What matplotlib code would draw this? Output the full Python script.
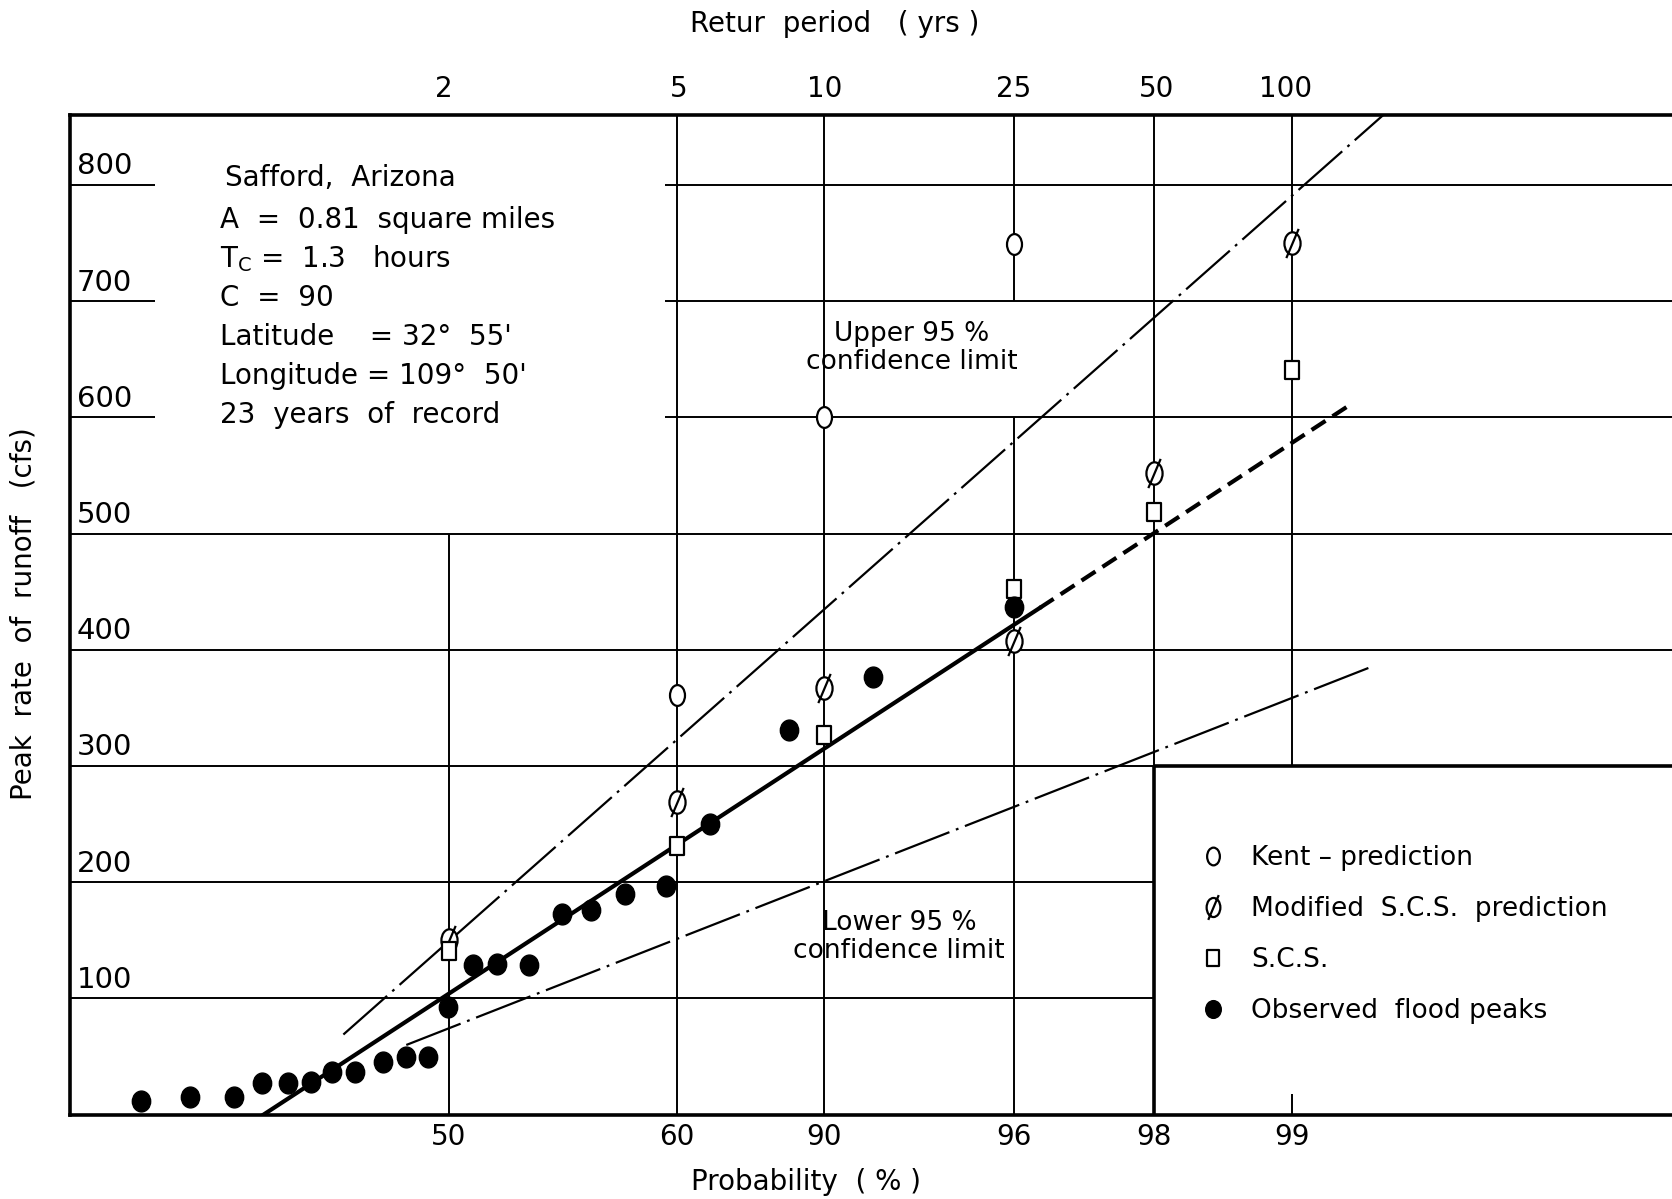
import matplotlib.pyplot as plt
import numpy as np
from matplotlib.path import Path

plt.rcParams['font.family'] = 'DejaVu Sans'
plt.rcParams['lines.scale_dashes'] = False

# x is the distance along the hand drawn probability paper
prob_pos = [3.55, 5.69, 7.07, 8.85, 10.16, 11.46]
prob_labels = ['50', '60', '90', '96', '98', '99']
period_pos = [3.50, 5.70, 7.07, 8.85, 10.19, 11.40]
period_labels = ['2', '5', '10', '25', '50', '100']
y_ticks = [100, 200, 300, 400, 500, 600, 700, 800]

kent_x = [5.69, 7.07, 8.85]
kent_y = [361, 600, 749]
mod_scs_x = [3.55, 5.69, 7.07, 8.85, 10.16, 11.46]
mod_scs_y = [150, 269, 367, 408, 552, 750]
scs_x = [3.55, 5.69, 7.07, 8.85, 10.16, 11.46]
scs_y = [141, 231, 327, 452, 519, 641]
obs_x = [0.66, 1.12, 1.53, 1.80, 2.04, 2.26, 2.45, 2.67, 2.93, 3.15, 3.35, 3.54,
         3.78, 4.00, 4.30, 4.61, 4.88, 5.20, 5.59, 6.00, 6.74, 7.53, 8.85]
obs_y = [12, 15, 15, 27, 27, 28, 37, 37, 45, 50, 50, 93,
         129, 130, 129, 173, 176, 190, 197, 250, 331, 377, 437]

fit_x = [1.81, 9.09, 12.02]
fit_y = [0, 436, 612]
upper_x = [2.56, 12.31]
upper_y = [69, 860]
lower_x = [3.15, 12.19]
lower_y = [60, 385]

# marker shapes: tall ellipse, slashed ellipse, tall box
circ = Path.unit_circle()
ellipse = Path(circ.vertices * [0.72, 1.0], circ.codes)
dot = Path(circ.vertices * [0.88, 1.0], circ.codes)
slash = Path([(-0.55, -1.3), (0.55, 1.3)], [Path.MOVETO, Path.LINETO])
phi = Path.make_compound_path(ellipse, slash)
box = Path([(-0.8, -1), (0.8, -1), (0.8, 1), (-0.8, 1), (-0.8, -1)],
           [Path.MOVETO, Path.LINETO, Path.LINETO, Path.LINETO, Path.CLOSEPOLY])

fig = plt.figure(figsize=(16.72, 11.99), dpi=100)
ax = fig.add_axes([0.0421, 0.0703, 0.9579, 0.8336])
ax.set_xlim(0, 15.02)
ax.set_ylim(0, 860)

for s in ['left', 'bottom', 'top']:
    ax.spines[s].set_linewidth(2.6)
ax.spines['right'].set_visible(False)

# grid, drawn the way the paper has it
gw = 1.4
ax.hlines([800, 700, 600], 5.58, 15.02, color='black', lw=gw)
ax.hlines([800, 700, 600], 0, 0.79, color='black', lw=gw)
ax.hlines([500, 400], 0, 15.02, color='black', lw=gw)
ax.hlines([300, 200, 100], 0, 10.16, color='black', lw=gw)
ax.vlines(prob_pos[0], 0, 500, color='black', lw=gw)
ax.vlines(prob_pos[1:3], 0, 860, color='black', lw=gw)
ax.vlines(prob_pos[3], 0, 600, color='black', lw=gw)
ax.vlines(prob_pos[3], 700, 860, color='black', lw=gw)
ax.vlines(prob_pos[4:], 300, 860, color='black', lw=gw)
ax.vlines(prob_pos[5], 0, 18, color='black', lw=gw)
# legend box
ax.hlines(300, 10.16, 15.02, color='black', lw=2.6)
ax.vlines(prob_pos[4], 0, 300, color='black', lw=2.6)

for v in y_ticks:
    ax.text(0.06, v + 4, str(v), fontsize=21, ha='left', va='bottom')

ax.set_xticks(prob_pos, prob_labels, fontsize=20)
ax.tick_params(axis='x', length=0, pad=6)
ax.set_yticks([])
top = ax.secondary_xaxis('top')
top.set_xticks(period_pos, period_labels, fontsize=20)
top.tick_params(axis='x', length=0, pad=9)
top.spines['top'].set_visible(False)

# fitted line and confidence limits
ax.plot(fit_x[:2], fit_y[:2], color='black', lw=3.0, zorder=3)
ax.plot(fit_x[1:], fit_y[1:], color='black', lw=3.0, ls=(0, (12, 6)), zorder=3)
ax.plot(upper_x, upper_y, color='black', lw=1.6, ls=(0, (42, 5, 2, 5)), zorder=3)
ax.plot(lower_x, lower_y, color='black', lw=1.6, ls=(0, (42, 5, 2, 5)), zorder=3)

kent, = ax.plot(kent_x, kent_y, ls='none', marker=ellipse, ms=15, mfc='white',
                mec='black', mew=1.6, zorder=5, label='Kent \u2013 prediction')
mod, = ax.plot(mod_scs_x, mod_scs_y, ls='none', marker=phi, ms=21, mfc='white',
               mec='black', mew=1.6, zorder=5, label='Modified  S.C.S.  prediction')
scs, = ax.plot(scs_x, scs_y, ls='none', marker=box, ms=13, mfc='white',
               mec='black', mew=1.6, zorder=5, label='S.C.S.')
obs, = ax.plot(obs_x, obs_y, ls='none', marker=dot, ms=15, mfc='black',
               mec='black', zorder=6, label='Observed  flood peaks')

ax.text(1.45, 806, 'Safford,  Arizona', fontsize=20, va='center')
info = ['A  =  0.81  square miles',
        'T$_\\mathregular{C}$ =  1.3   hours',
        'C  =  90',
        'Latitude    = 32\u00b0  55\'',
        'Longitude = 109\u00b0  50\'',
        '23  years  of  record']
for i, line in enumerate(info):
    ax.text(1.40, 770 - 33.6 * i, line, fontsize=20, va='center')

ax.text(7.89, 660, 'Upper 95 %\nconfidence limit', fontsize=19, ha='center',
        va='center', linespacing=1.1)
ax.text(7.77, 153, 'Lower 95 %\nconfidence limit', fontsize=19, ha='center',
        va='center', linespacing=1.1)

ax.legend(handles=[kent, mod, scs, obs], loc='upper left', bbox_to_anchor=(0.697, 0.283),
          frameon=False, fontsize=19, handlelength=1.0, handletextpad=0.95,
          labelspacing=0.95, borderpad=0, markerscale=0.85)

fig.text(0.014, 0.488, 'Peak  rate  of  runoff   (cfs)', rotation=90, fontsize=20,
         ha='center', va='center')
fig.text(0.482, 0.014, 'Probability  ( % )', fontsize=20, ha='center', va='center')
fig.text(0.499, 0.980, 'Retur  period   ( yrs )', fontsize=20, ha='center', va='center')

fig.savefig('out.png', dpi=100)
